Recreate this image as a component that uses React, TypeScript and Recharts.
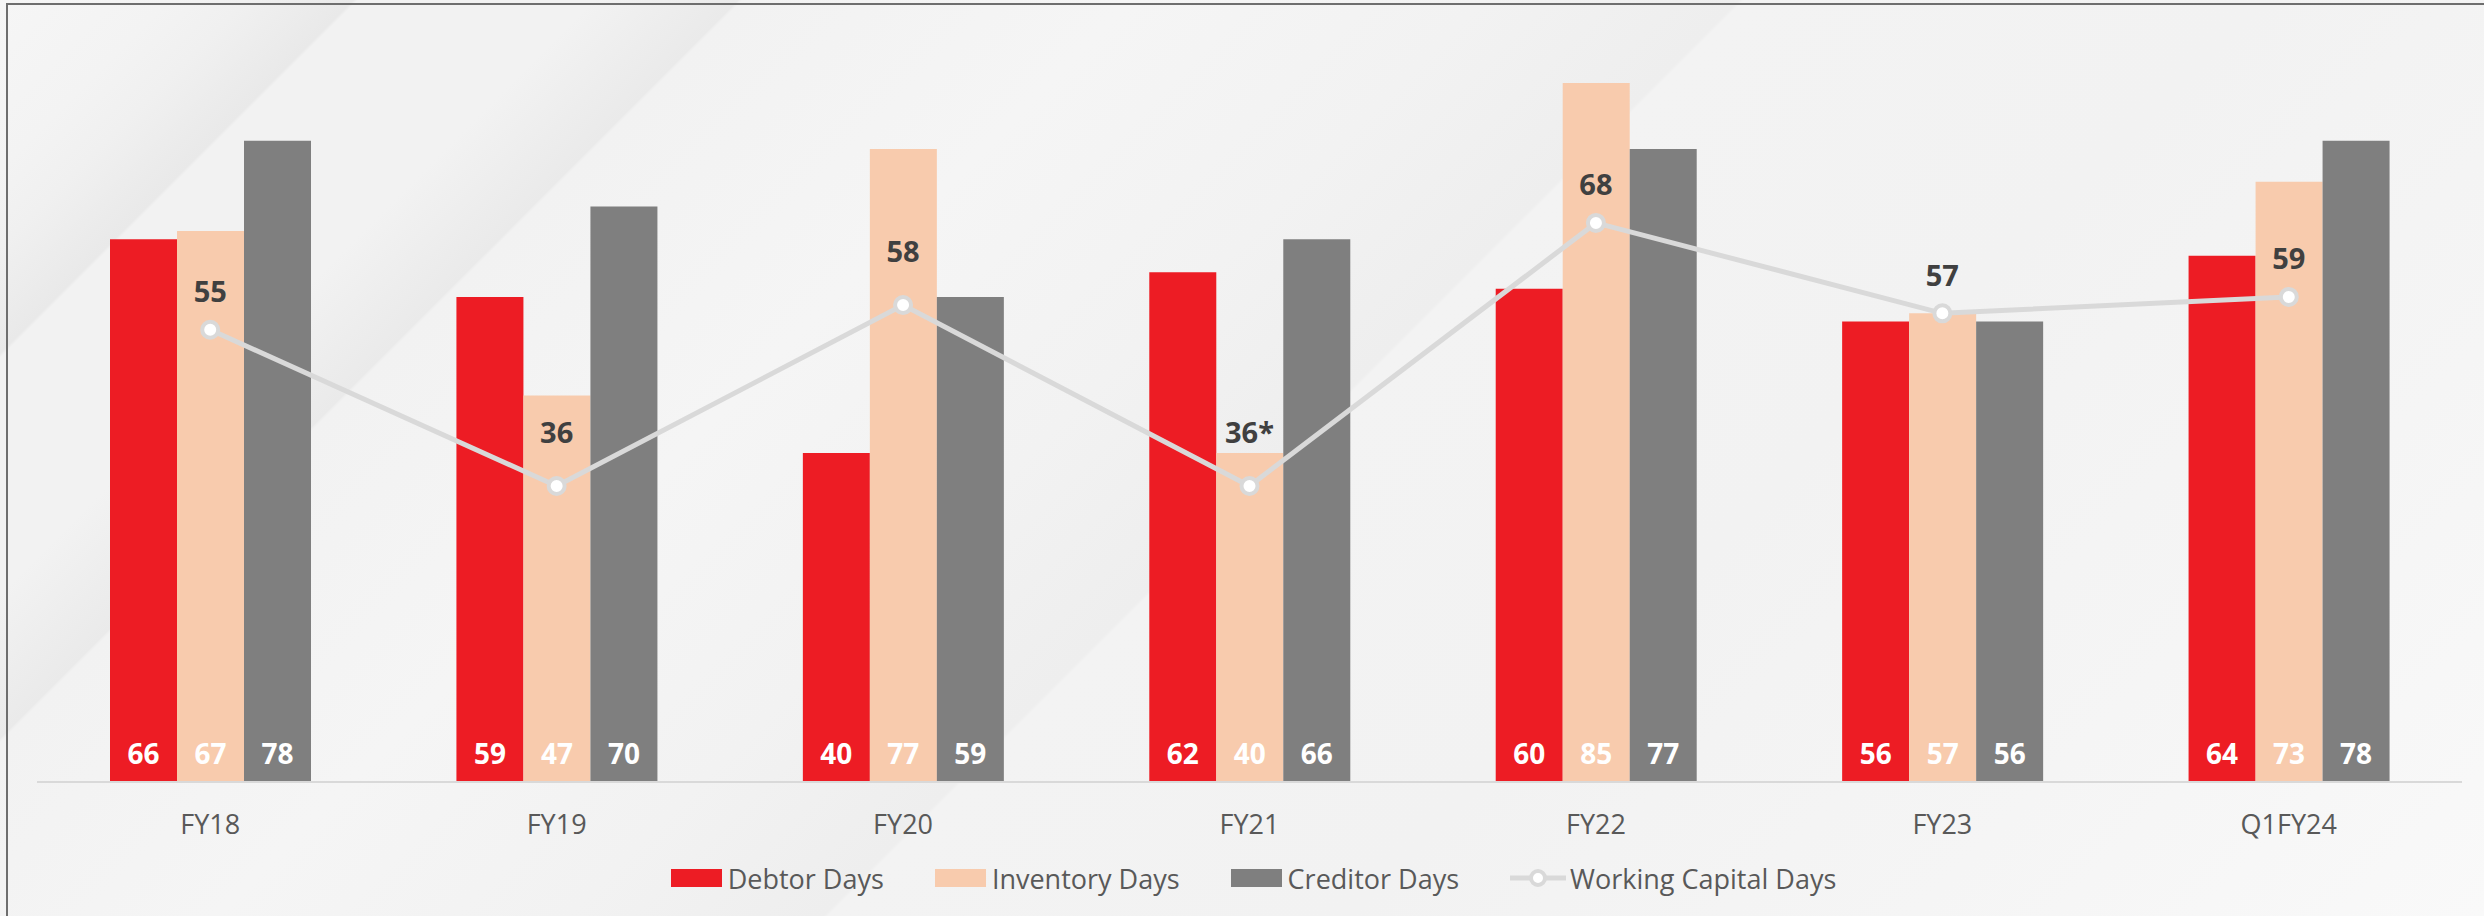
import React from 'react';
import {
  ComposedChart,
  Bar,
  Line,
  XAxis,
  YAxis,
  Legend,
  LabelList
} from 'recharts';

const categories = ['FY18', 'FY19', 'FY20', 'FY21', 'FY22', 'FY23', 'Q1FY24'];
const debtorDays = [66, 59, 40, 62, 60, 56, 64];
const inventoryDays = [67, 47, 77, 40, 85, 57, 73];
const creditorDays = [78, 70, 59, 66, 77, 56, 78];
const workingCapitalDays = [55, 36, 58, 36, 68, 57, 59];
const workingCapitalLabels = ['55', '36', '58', '36*', '68', '57', '59'];

const data = categories.map((name, i) => ({
  name,
  debtor: debtorDays[i],
  inventory: inventoryDays[i],
  creditor: creditorDays[i],
  wc: workingCapitalDays[i],
  wcLabel: workingCapitalLabels[i]
}));

const FONT = "'Open Sans', sans-serif";
const RED = '#ED1C24';
const PEACH = '#F8CBAD';
const GRAY = '#7F7F7F';
const LINE = '#D9D9D9';

// labels that sit higher above their point in the original
const raised = new Set(['FY19', 'FY20', 'FY21']);

const background =
  'linear-gradient(135deg, #f6f6f6 0px, #f3f3f3 120px, #f0f0f0 175px, #e9e9e9 250px, #f2f2f2 253px, ' +
  '#f2f2f2 420px, #eaeaea 522px, #f2f2f2 525px, #f5f5f5 800px, #f2f2f2 1050px, #eeeeee 1230px, ' +
  '#f3f3f3 1233px, #f2f2f2 1600px, #f5f5f5 2000px, #f9f9f9 2404px)';

const BarValue = (props: any) => {
  const { x, y, width, height, value } = props;
  return (
    <text
      x={x + width / 2}
      y={y + height - 29}
      textAnchor="middle"
      dominantBaseline="central"
      fill="#ffffff"
      fontFamily={FONT}
      fontWeight={700}
      fontSize={28}
    >
      {value}
    </text>
  );
};

const LineValue = (props: any) => {
  const { x, y, value, index } = props;
  const lift = index !== undefined && raised.has(categories[index]) ? 55 : 39;
  return (
    <text
      x={x}
      y={y - lift}
      textAnchor="middle"
      dominantBaseline="central"
      fill="#404040"
      fontFamily={FONT}
      fontWeight={700}
      fontSize={29}
    >
      {value}
    </text>
  );
};

const CategoryTick = (props: any) => {
  const { x, y, payload } = props;
  return (
    <text
      x={x}
      y={y + 41}
      textAnchor="middle"
      dominantBaseline="central"
      fill="#595959"
      fontFamily={FONT}
      fontSize={27}
    >
      {payload.value}
    </text>
  );
};

const legendItems = [
  { label: 'Debtor Days', color: RED, kind: 'box' },
  { label: 'Inventory Days', color: PEACH, kind: 'box' },
  { label: 'Creditor Days', color: GRAY, kind: 'box' },
  { label: 'Working Capital Days', color: LINE, kind: 'line' }
];

const renderLegend = () => (
  <div
    style={{
      height: 40,
      display: 'flex',
      alignItems: 'center',
      justifyContent: 'center',
      paddingLeft: 8,
      fontFamily: FONT,
      fontSize: 27,
      color: '#595959'
    }}
  >
    {legendItems.map((item, i) => (
      <div
        key={item.label}
        style={{
          display: 'flex',
          alignItems: 'center',
          marginRight: i < legendItems.length - 1 ? 51 : 0
        }}
      >
        {item.kind === 'box' ? (
          <div style={{ width: 51, height: 18, background: item.color, marginRight: 6 }} />
        ) : (
          <svg width={56} height={24} style={{ marginRight: 4 }}>
            <line x1={0} y1={12} x2={56} y2={12} stroke={LINE} strokeWidth={5} />
            <circle cx={28} cy={12} r={7} fill="#ffffff" stroke={LINE} strokeWidth={4} />
          </svg>
        )}
        <span style={{ whiteSpace: 'nowrap' }}>{item.label}</span>
      </div>
    ))}
  </div>
);

const App: React.FC = () => {
  return (
    <div
      style={{
        position: 'absolute',
        left: 0,
        top: 0,
        width: 2484,
        height: 916,
        background,
        overflow: 'hidden'
      }}
    >
      <div
        style={{
          position: 'absolute',
          left: 6,
          top: 3,
          right: -10,
          bottom: -10,
          borderLeft: '2px solid #6e6e6e',
          borderTop: '2px solid #6e6e6e'
        }}
      />
      <div style={{ position: 'absolute', left: 0, top: 0 }}>
        <ComposedChart
          width={2484}
          height={916}
          data={data}
          margin={{ top: 42, right: 22, left: 37, bottom: 18 }}
          barCategoryGap={73}
          barGap={0}
        >
          <XAxis
            dataKey="name"
            height={76}
            tickLine={false}
            tickSize={0}
            tickMargin={0}
            axisLine={{ stroke: LINE, strokeWidth: 2 }}
            tick={<CategoryTick />}
            interval={0}
          />
          <YAxis hide domain={[0, 90]} />
          <Legend verticalAlign="bottom" content={renderLegend} />
          <Bar dataKey="debtor" fill={RED} isAnimationActive={false}>
            <LabelList dataKey="debtor" content={<BarValue />} />
          </Bar>
          <Bar dataKey="inventory" fill={PEACH} isAnimationActive={false}>
            <LabelList dataKey="inventory" content={<BarValue />} />
          </Bar>
          <Bar dataKey="creditor" fill={GRAY} isAnimationActive={false}>
            <LabelList dataKey="creditor" content={<BarValue />} />
          </Bar>
          <Line
            dataKey="wc"
            stroke={LINE}
            strokeWidth={5}
            dot={{ r: 8, fill: '#ffffff', stroke: LINE, strokeWidth: 4 }}
            activeDot={false}
            isAnimationActive={false}
          >
            <LabelList dataKey="wcLabel" content={<LineValue />} />
          </Line>
        </ComposedChart>
      </div>
    </div>
  );
};

export default App;
